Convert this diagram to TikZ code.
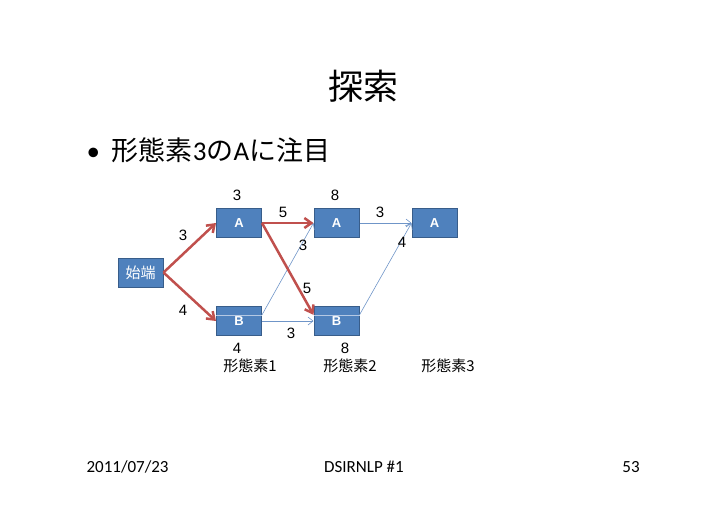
\documentclass[tikz,border=0pt]{standalone}
\usepackage{fontspec}
\setmainfont{Carlito}
\newfontfamily\jpfont{Noto Sans CJK JP}
\newfontfamily\numfont{Liberation Sans}
\usetikzlibrary{arrows.meta}
\definecolor{boxblue}{HTML}{4F81BD}
\definecolor{boxedge}{HTML}{385D8A}
\definecolor{pathred}{HTML}{C0504D}
\definecolor{lineblue}{HTML}{6F95C8}
\definecolor{seamblue}{HTML}{B4C8E4}

\begin{document}
\begin{tikzpicture}[x=1pt, y=-1pt,
  box/.style={rectangle, draw=boxedge, line width=1pt, fill=boxblue, minimum width=45pt, minimum height=29pt, inner sep=0pt, text=white, font=\numfont\bfseries\fontsize{13}{13}\selectfont},
  best/.style={-{Straight Barb[length=7pt,width=10pt]}, line width=2.5pt, pathred},
  cand/.style={-{Straight Barb[length=5pt,width=8pt]}, line width=0.6pt, lineblue},
  seam/.style={line width=0.6pt, seamblue},
  cost/.style={font=\numfont\fontsize{15}{15}\selectfont},
  stage/.style={font=\jpfont\fontsize{15}{15}\selectfont}
]
  \useasboundingbox (0,0) rectangle (728,515);

  \node[font=\jpfont\fontsize{35}{35}\selectfont] (title) at (363,86) {探索};
  \node[anchor=west, font=\fontsize{27}{27}\selectfont] (point) at (83,150) {\textbullet\hspace{12pt}{\jpfont 形態素}3{\jpfont の}A{\jpfont に注目}};

  \node[box, font=\jpfont\fontsize{15}{15}\selectfont] (start) at (140.5,272.5) {始端};
  \node[box] (a1) at (239,223) {A};
  \node[box] (b1) at (239,321) {B};
  \node[box] (a2) at (336.5,223) {A};
  \node[box] (b2) at (336.5,321) {B};
  \node[box] (a3) at (434.5,223) {A};

  \draw[seam] (b1.165) -- (b1.15);
  \draw[seam] (b2.165) -- (b2.15);

  \draw[cand] (a2) -- (a3);
  \draw[cand] (b1.15) -- (a2.west);
  \draw[cand] (b1) -- (b2);
  \draw[cand] (b2.15) -- (a3.west);
  \draw[best] (start.east) -- (a1.west);
  \draw[best] (start.east) -- (b1.west);
  \draw[best] (a1) -- (a2);
  \draw[best] (a1.east) -- (b2.165);

  \node[cost] (c-a1) at (237,195) {3};
  \node[cost] (c-a2) at (335,195) {8};
  \node[cost] (c-b1) at (237,348) {4};
  \node[cost] (c-b2) at (345,348) {8};
  \node[cost] (w-sa) at (183,235) {3};
  \node[cost] (w-sb) at (183,310) {4};
  \node[cost] (w-aa) at (283,212) {5};
  \node[cost] (w-ab) at (307,288) {5};
  \node[cost] (w-ba) at (303,245) {3};
  \node[cost] (w-bb) at (291,333) {3};
  \node[cost] (w-a3) at (380,212) {3};
  \node[cost] (w-b3) at (402,242) {4};

  \node[stage] (m1) at (250,366) {形態素1};
  \node[stage] (m2) at (350,366) {形態素2};
  \node[stage] (m3) at (448,366) {形態素3};

  \node[anchor=west, font=\fontsize{17}{17}\selectfont] (date) at (83,467) {2011/07/23};
  \node[font=\fontsize{17}{17}\selectfont] (event) at (364,467) {DSIRNLP \#1};
  \node[font=\fontsize{17}{17}\selectfont] (page) at (631,467) {53};
\end{tikzpicture}
\end{document}
